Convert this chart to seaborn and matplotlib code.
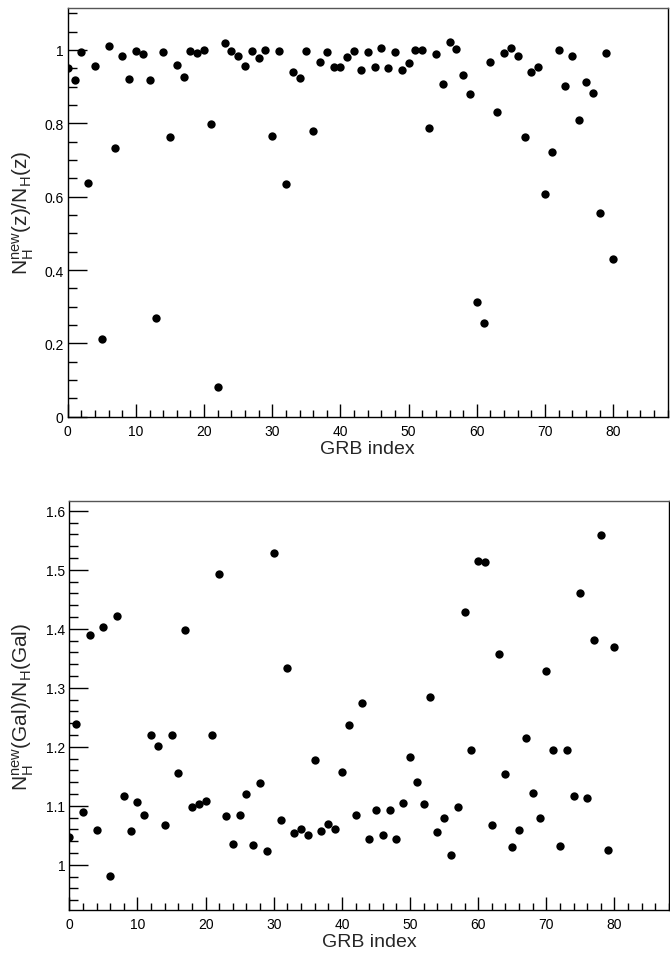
import numpy as np
import pandas as pd
import seaborn as sns
import matplotlib

matplotlib.use("Agg")
import matplotlib.pyplot as plt
from matplotlib.ticker import MultipleLocator


# ============================================================
# N_H ratios per GRB: redshifted column (top) and Galactic (bottom)
# ============================================================

GRB_INDEX = list(range(81))

NH_Z_RATIO = [
    0.951, 0.918, 0.995, 0.638, 0.956, 0.212, 1.010, 0.733, 0.983, 0.921,
    0.996, 0.989, 0.918, 0.268, 0.994, 0.763, 0.959, 0.926, 0.996, 0.991,
    1.000, 0.797, 0.080, 1.018, 0.996, 0.983, 0.955, 0.996, 0.977, 1.001,
    0.765, 0.996, 0.635, 0.940, 0.924, 0.997, 0.780, 0.966, 0.994, 0.953,
    0.953, 0.980, 0.996, 0.945, 0.995, 0.954, 1.005, 0.951, 0.995, 0.945,
    0.964, 1.001, 1.001, 0.786, 0.989, 0.906, 1.021, 1.004, 0.933, 0.880,
    0.312, 0.256, 0.968, 0.830, 0.992, 1.005, 0.984, 0.763, 0.939, 0.954,
    0.606, 0.721, 1.001, 0.901, 0.984, 0.809, 0.913, 0.883, 0.556, 0.993,
    0.430,
]

NH_GAL_RATIO = [
    1.047, 1.239, 1.089, 1.389, 1.059, 1.403, 0.981, 1.421, 1.116, 1.058,
    1.107, 1.085, 1.220, 1.202, 1.067, 1.220, 1.156, 1.398, 1.098, 1.103,
    1.109, 1.220, 1.493, 1.082, 1.036, 1.085, 1.120, 1.034, 1.138, 1.023,
    1.529, 1.076, 1.334, 1.054, 1.060, 1.051, 1.178, 1.058, 1.069, 1.061,
    1.158, 1.237, 1.085, 1.274, 1.043, 1.093, 1.051, 1.093, 1.043, 1.105,
    1.182, 1.140, 1.103, 1.284, 1.056, 1.080, 1.016, 1.098, 1.429, 1.195,
    1.515, 1.513, 1.067, 1.358, 1.154, 1.030, 1.059, 1.215, 1.122, 1.080,
    1.328, 1.195, 1.032, 1.195, 1.116, 1.460, 1.113, 1.381, 1.559, 1.025,
    1.369,
]

X_LABEL = "GRB index"
Y_LABEL_TOP = r"$\mathregular{N_{H}^{new}(z)/N_{H}(z)}$"
Y_LABEL_BOTTOM = r"$\mathregular{N_{H}^{new}(Gal)/N_{H}(Gal)}$"

W_PX, H_PX, DPI = 670, 954, 100


def px_rect(left, top, right, bottom):
    return [left / W_PX, 1 - bottom / H_PX, (right - left) / W_PX, (bottom - top) / H_PX]


def style_axis(ax, ylim, y_major, y_minor, ylabel, ylabel_x):
    ax.set_xlim(0, 88)
    ax.set_ylim(*ylim)
    ax.xaxis.set_major_locator(MultipleLocator(10))
    ax.xaxis.set_minor_locator(MultipleLocator(2))
    ax.yaxis.set_major_locator(MultipleLocator(y_major))
    ax.yaxis.set_minor_locator(MultipleLocator(y_minor))
    ax.yaxis.set_major_formatter(plt.FuncFormatter(lambda v, p: f"{v:g}"))

    ax.tick_params(axis="both", which="both", direction="in", colors="black",
                   labelsize=10, top=False, right=False, bottom=True, left=True)
    ax.tick_params(axis="y", which="major", length=13.5, width=1, pad=3)
    ax.tick_params(axis="y", which="minor", length=6.8, width=1)
    ax.tick_params(axis="x", which="major", length=9.5, width=1, pad=5)
    ax.tick_params(axis="x", which="minor", length=5, width=1)

    for side in ["left", "bottom", "right"]:
        ax.spines[side].set_color("black")
        ax.spines[side].set_linewidth(1.0)
    ax.spines["top"].set_color("#555555")
    ax.spines["top"].set_linewidth(1.0)

    ax.set_xlabel(X_LABEL, fontsize=14)
    ax.xaxis.set_label_coords(0.5, -0.058)
    ax.set_ylabel(ylabel, fontsize=15)
    ax.yaxis.set_label_coords(ylabel_x, 0.5)
    ax.grid(False)


def main():
    sns.set_theme(style="white")
    plt.rcParams["font.family"] = ["Liberation Sans", "DejaVu Sans"]
    plt.rcParams["mathtext.fontset"] = "custom"
    plt.rcParams["mathtext.rm"] = "Liberation Sans"
    plt.rcParams["mathtext.default"] = "regular"

    df_top = pd.DataFrame({"idx": GRB_INDEX, "ratio": NH_Z_RATIO})
    df_bot = pd.DataFrame({"idx": GRB_INDEX, "ratio": NH_GAL_RATIO})

    fig = plt.figure(figsize=(W_PX / DPI, H_PX / DPI), dpi=DPI)
    fig.patch.set_facecolor("white")

    ax1 = fig.add_axes(px_rect(67.7, 9, 667.7, 417.7))
    ax2 = fig.add_axes(px_rect(69.3, 502.3, 669, 910.7))

    for ax, df in [(ax1, df_top), (ax2, df_bot)]:
        sns.scatterplot(data=df, x="idx", y="ratio", ax=ax, color="black",
                        s=36, linewidth=0, marker="o", legend=False, zorder=3)
        ax.set_facecolor("white")

    style_axis(ax1, (0, 1.1145), 0.2, 0.05, Y_LABEL_TOP, -0.053)
    style_axis(ax2, (0.924, 1.616), 0.1, 0.02, Y_LABEL_BOTTOM, -0.055)

    fig.savefig("out.png", dpi=DPI, facecolor="white")
    plt.close(fig)


if __name__ == "__main__":
    main()
